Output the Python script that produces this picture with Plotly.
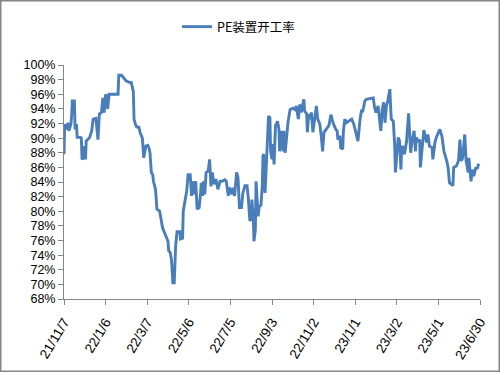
import datetime as dt
import plotly.graph_objects as go

# ---- data ----
start_date = "2021-11-07"
day_offsets = [
    0, 1, 3, 6, 7, 10, 11, 12, 15, 16, 18, 19, 24, 25, 26, 27, 29, 31, 32, 37,
    40, 42, 46, 49, 51, 54, 56, 58, 60, 61, 63, 65, 78, 79, 83, 90, 95, 97, 100, 101,
    103, 105, 108, 110, 113, 114, 115, 118, 121, 123, 124, 126, 128, 129, 132, 134, 138, 140, 142, 144,
    147, 150, 151, 153, 155, 157, 159, 161, 163, 167, 168, 171, 172, 174, 177, 179, 182, 184, 186, 188,
    190, 192, 195, 197, 198, 200, 201, 203, 205, 208, 210, 212, 214, 216, 219, 222, 225, 228, 232, 234,
    237, 238, 240, 242, 244, 246, 249, 251, 253, 256, 258, 261, 264, 266, 268, 270, 271, 273, 274, 276,
    277, 280, 282, 284, 286, 287, 288, 290, 292, 293, 295, 297, 298, 300, 301, 303, 305, 308, 310, 311,
    314, 316, 317, 319, 321, 323, 326, 330, 333, 335, 338, 340, 342, 346, 347, 350, 351, 353, 354, 357,
    359, 361, 363, 364, 366, 369, 371, 373, 375, 378, 382, 385, 388, 392, 394, 395, 398, 399, 402, 403,
    405, 407, 410, 415, 418, 422, 424, 427, 429, 431, 434, 436, 443, 446, 448, 450, 453, 455, 457, 459,
    461, 463, 465, 467, 470, 471, 472, 475, 477, 478, 479, 482, 484, 486, 487, 489, 491, 494, 497, 500,
    502, 505, 507, 508, 511, 513, 514, 516, 519, 523, 525, 527, 531, 532, 535, 537, 542, 545, 548, 552,
    554, 556, 561, 562, 566, 569, 571, 573, 575, 578, 580, 583, 584, 587, 589, 591, 594, 596, 598,
]
pe_rate = [
    87.8, 91.9, 91.2, 92.1, 91.0, 91.9, 93.0, 95.1, 95.1, 91.2, 91.9, 90.1, 90.1, 90.0, 87.1, 87.2, 88.9, 87.1, 89.6, 90.1,
    91.0, 92.6, 92.7, 89.8, 93.3, 93.5, 95.5, 93.5, 96.0, 95.8, 94.0, 96.0, 96.0, 98.6, 98.6, 97.8, 97.6, 97.6, 96.4, 92.6,
    91.9, 91.5, 91.5, 90.7, 90.0, 88.5, 87.3, 88.9, 89.0, 88.5, 88.0, 85.3, 85.0, 84.1, 83.0, 80.3, 80.0, 78.9, 77.8, 77.3,
    76.6, 75.9, 74.6, 74.4, 73.4, 70.2, 70.2, 75.2, 77.2, 77.2, 76.2, 76.3, 80.0, 81.2, 82.8, 85.0, 85.0, 82.1, 84.1, 82.3,
    84.1, 80.3, 80.5, 82.5, 83.9, 82.1, 84.1, 82.3, 85.3, 85.5, 87.1, 83.4, 85.3, 83.7, 84.4, 83.0, 84.1, 84.1, 84.3, 84.1,
    82.1, 83.2, 83.0, 82.3, 83.2, 82.1, 85.3, 84.6, 80.5, 80.5, 82.5, 83.5, 83.5, 81.6, 78.7, 78.9, 81.6, 79.1, 75.9, 77.5,
    84.1, 79.3, 80.9, 80.7, 83.5, 87.6, 87.8, 82.5, 87.6, 88.2, 93.0, 92.8, 88.2, 87.1, 89.2, 86.4, 91.7, 92.3, 91.2, 88.2,
    91.0, 88.2, 91.0, 88.0, 90.7, 92.1, 93.9, 94.1, 93.9, 94.4, 92.6, 94.6, 93.5, 95.3, 93.7, 93.3, 90.8, 93.3, 92.6, 93.5,
    90.8, 92.6, 93.7, 94.4, 92.6, 91.9, 90.3, 88.2, 90.8, 91.2, 91.7, 93.2, 92.1, 91.2, 91.0, 89.8, 90.3, 88.7, 88.5, 91.0,
    92.6, 92.1, 92.3, 92.6, 91.9, 90.1, 89.6, 92.6, 93.7, 93.7, 95.1, 95.3, 95.4, 95.5, 94.2, 93.5, 94.4, 92.6, 91.0, 93.9,
    94.9, 92.1, 94.4, 95.1, 96.7, 94.4, 92.6, 92.3, 88.9, 85.3, 86.9, 90.1, 89.6, 85.7, 88.7, 88.9, 87.8, 89.5, 93.4, 88.0,
    89.6, 91.0, 88.2, 90.1, 89.5, 89.8, 86.0, 88.5, 91.1, 89.4, 90.5, 88.9, 88.7, 87.1, 89.4, 90.1, 91.2, 90.3, 88.2, 86.9,
    86.0, 83.9, 83.5, 86.0, 86.2, 86.9, 89.8, 86.9, 87.3, 90.5, 86.9, 85.3, 87.3, 84.1, 85.7, 84.8, 86.0, 85.8, 86.5,
]
tick_dates = ["2021-11-07", "2022-01-06", "2022-03-07", "2022-05-06", "2022-07-05",
              "2022-09-03", "2022-11-02", "2023-01-01", "2023-03-02", "2023-05-01", "2023-06-30"]
tick_labels = ["21/11/7", "22/1/6", "22/3/7", "22/5/6", "22/7/5",
               "22/9/3", "22/11/2", "23/1/1", "23/3/2", "23/5/1", "23/6/30"]
y_ticks = list(range(68, 101, 2))
series_name = "PE装置开工率"

# ---- build ----
d0 = dt.date.fromisoformat(start_date)
dates = [d0 + dt.timedelta(days=o) for o in day_offsets]

W, H = 500, 372
ML, MR, MT, MB = 64, 20, 65, 73
pw, ph = W - ML - MR, H - MT - MB

fig = go.Figure()
fig.add_trace(go.Scatter(
    x=dates, y=pe_rate, mode="lines", name=series_name,
    line=dict(color="#4A7EBB", width=2.9),
))

axis_col = "#868686"
fig.update_layout(
    width=W, height=H,
    margin=dict(l=ML, r=MR, t=MT, b=MB, autoexpand=False),
    paper_bgcolor="white", plot_bgcolor="white",
    font=dict(family="Liberation Sans, Arial, sans-serif", size=12, color="black"),
    showlegend=True,
    legend=dict(
        orientation="h", x=(177 - ML) / pw, xanchor="left",
        y=(H - MB - 27) / ph, yanchor="middle",
        font=dict(family="Noto Sans CJK SC, sans-serif", size=12.5, color="black"),
        itemwidth=30, bgcolor="rgba(0,0,0,0)",
    ),
    xaxis=dict(
        type="date", range=[tick_dates[0], tick_dates[-1]],
        tickmode="array", tickvals=tick_dates, ticktext=tick_labels,
        tickangle=-59, showgrid=False, zeroline=False,
        showline=True, linecolor=axis_col, linewidth=1,
        ticks="outside", ticklen=5, tickcolor=axis_col,
        tickfont=dict(size=13.5), ticklabelstandoff=4,
    ),
    yaxis=dict(
        range=[68, 100], tickmode="array", tickvals=y_ticks,
        ticktext=[f"{v}%" for v in y_ticks],
        showgrid=False, zeroline=False,
        showline=True, linecolor=axis_col, linewidth=1,
        ticks="outside", ticklen=5, tickcolor=axis_col,
        tickfont=dict(size=12.5),
    ),
)

# outer chart border
fig.add_shape(
    type="rect", xref="paper", yref="paper",
    x0=(0.75 - ML) / pw, x1=(W - 0.75 - ML) / pw,
    y0=-(MB - 0.75) / ph, y1=1 + (MT - 0.75) / ph,
    line=dict(color="#868686", width=1.5), fillcolor="rgba(0,0,0,0)",
    layer="below",
)

fig.write_html(
    "out.html",
    config={"displayModeBar": False},
    post_script="document.body.style.margin='0';document.body.style.padding='0';",
)
